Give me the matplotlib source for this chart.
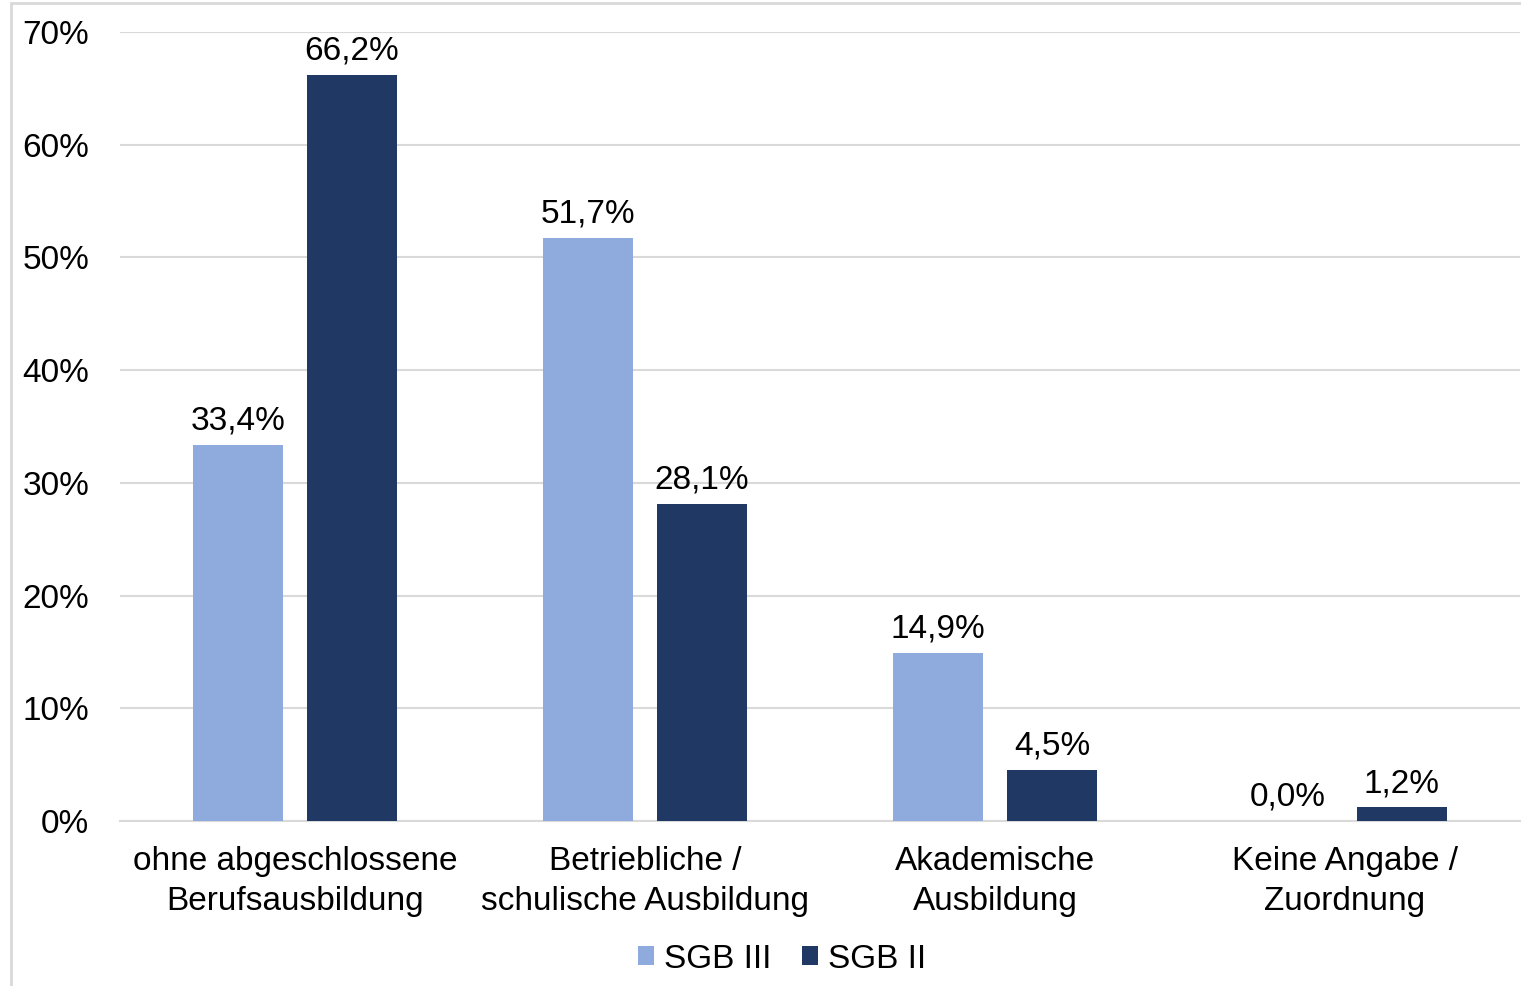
import matplotlib
matplotlib.use("Agg")
import matplotlib.pyplot as plt
from matplotlib.patches import Rectangle
import numpy as np

plt.rcParams['font.family'] = ['Liberation Sans', 'DejaVu Sans']

categories = ["ohne abgeschlossene\nBerufsausbildung",
              "Betriebliche /\nschulische Ausbildung",
              "Akademische\nAusbildung",
              "Keine Angabe /\nZuordnung"]
sgb3 = [33.4, 51.7, 14.9, 0.0]
sgb2 = [66.2, 28.1, 4.5, 1.2]
series_names = ["SGB III", "SGB II"]
yticks = [0, 10, 20, 30, 40, 50, 60, 70]

c_light = "#8FAADC"
c_dark = "#203864"

W, H = 1521, 986
fig = plt.figure(figsize=(W / 100, H / 100), dpi=100)
ax = fig.add_axes([120 / W, (H - 821) / H, 1400 / W, (821 - 32) / H])

x = np.arange(len(categories))
bw = 90 / 350
off = 57 / 350
b1 = ax.bar(x - off, sgb3, bw, color=c_light, label=series_names[0], zorder=3)
b2 = ax.bar(x + off, sgb2, bw, color=c_dark, label=series_names[1], zorder=3)

fs = 24
for bars, vals in ((b1, sgb3), (b2, sgb2)):
    for rect, v in zip(bars, vals):
        ax.annotate(f"{v:.1f}%".replace(".", ","),
                    (rect.get_x() + rect.get_width() / 2, v),
                    xytext=(0, 6), textcoords="offset points",
                    ha="center", va="bottom", fontsize=fs, color="black")

ax.set_xlim(-0.5, len(categories) - 0.5)
ax.set_ylim(0, 70)
ax.set_yticks(yticks)
ax.set_yticklabels([f"{t}%" for t in yticks], fontsize=fs)
ax.set_xticks(x)
ax.set_xticklabels(categories, fontsize=fs, linespacing=1.36)
ax.tick_params(axis="both", length=0)
ax.tick_params(axis="y", pad=22)
ax.tick_params(axis="x", pad=18)
ax.grid(axis="y", color="#D9D9D9", linewidth=1.5, zorder=0)
for s in ("top", "right", "left"):
    ax.spines[s].set_visible(False)
ax.spines["bottom"].set_color("#D9D9D9")
ax.spines["bottom"].set_linewidth(1.5)

leg = fig.legend(loc="center", bbox_to_anchor=(782 / W, (H - 959) / H),
                 ncol=2, frameon=False, fontsize=fs,
                 handlelength=0.5, handleheight=0.5, handletextpad=0.3,
                 columnspacing=0.9)

fig.patches.append(Rectangle((11 / W, -0.01), 1.2, (H - 3) / H + 0.01,
                             transform=fig.transFigure, fill=False,
                             edgecolor="#D9D9D9", linewidth=2))

fig.savefig("out.png", dpi=100, facecolor="white")
